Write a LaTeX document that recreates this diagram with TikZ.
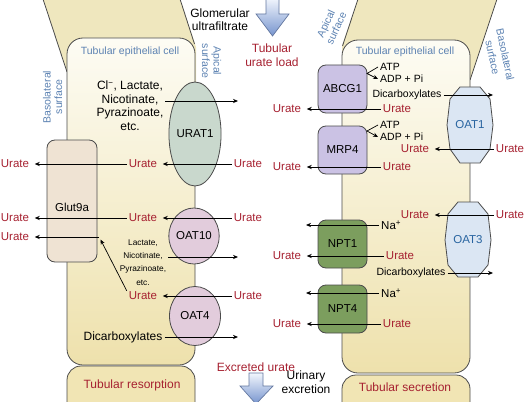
\documentclass[tikz,border=0pt]{standalone}
\usepackage{fontspec}
\setmainfont{Liberation Sans}
\usetikzlibrary{shapes.geometric,arrows.meta}
\definecolor{ured}{RGB}{166,32,48}
\definecolor{lblue}{RGB}{92,130,178}
\definecolor{oblue}{RGB}{40,100,160}
\definecolor{trapfill}{RGB}{239,231,190}
\definecolor{celltop}{RGB}{253,252,244}
\definecolor{cellbot}{RGB}{238,225,172}
\definecolor{capfill}{RGB}{241,229,180}
\definecolor{edgec}{RGB}{75,75,75}
\definecolor{uratc}{RGB}{201,216,205}
\definecolor{oatc}{RGB}{226,204,220}
\definecolor{glutc}{RGB}{239,227,211}
\definecolor{abcc}{RGB}{203,194,228}
\definecolor{nptc}{RGB}{124,158,94}
\definecolor{oatbc}{RGB}{219,230,243}
\definecolor{bigtop}{RGB}{242,246,253}
\definecolor{bigbot}{RGB}{118,148,206}
\definecolor{bigedge}{RGB}{100,120,160}
\tikzset{
  edgeline/.style={draw=edgec, line width=0.8pt},
  cellstyle/.style={edgeline, rounded corners=16pt, top color=celltop, bottom color=cellbot},
  capstyle/.style={edgeline, rounded corners=14pt, fill=capfill},
  tbox/.style={edgeline, rectangle, rounded corners=8pt, inner sep=0pt, font=\fontsize{11.5}{13}\selectfont},
  tell/.style={edgeline, ellipse, inner sep=0pt, font=\fontsize{11.5}{13}\selectfont},
  lab/.style={inner xsep=2pt, inner ysep=1pt, font=\fontsize{11.5}{13}\selectfont},
  biglab/.style={inner xsep=2pt, inner ysep=1pt, font=\fontsize{12}{13.5}\selectfont},
  smlab/.style={inner xsep=2pt, inner ysep=1pt, font=\fontsize{10.5}{12}\selectfont},
  tinylab/.style={inner xsep=2pt, inner ysep=1pt, font=\fontsize{8.3}{13.2}\selectfont},
  ur/.style={lab, text=ured},
  blab/.style={inner sep=1pt, text=lblue, font=\fontsize{10.5}{11.5}\selectfont, align=center},
  arr/.style={-{Stealth[length=5pt,width=4.2pt]}, line width=0.7pt, black},
  arrL/.style={arr, shorten >=3.5pt},
  bigarrow/.style={draw=bigedge, line width=0.7pt, top color=bigtop, bottom color=bigbot}
}
\begin{document}
\begin{tikzpicture}[x=1pt,y=-1pt]
\useasboundingbox (0,0) rectangle (526,401);
\clip (0,0) rectangle (526,401);

% ---- funnels above the cells
\fill[trapfill] (43,-1) -- (180,-1) -- (196,47) -- (196,120) -- (67,120) -- (67,72) -- cycle;
\draw[edgeline] (43,-1) -- (67,72);
\draw[edgeline] (180,-1) -- (194.5,44);
\fill[trapfill] (358,-1) -- (497,-1) -- (470,80) -- (470,120) -- (342,120) -- (342,46) -- cycle;
\draw[edgeline] (358,-1) -- (342.5,46);
\draw[edgeline] (497,-1) -- (470,80);

% ---- cells
\draw[cellstyle] (67,38) rectangle (195,365);
\draw[cellstyle] (342,40) rectangle (470,373);
\draw[capstyle] (67,415) -- (67,366) -- (195,366) -- (195,415);
\draw[capstyle] (342,415) -- (342,375) -- (470,375) -- (470,415);

% ---- big arrows
\path[bigarrow] (266,-2) -- (279,-2) -- (279,14) -- (289,14) -- (272.5,36) -- (256,14) -- (266,14) -- cycle;
\path[bigarrow] (249,373) -- (263,373) -- (263,386) -- (273,386) -- (256,404) -- (240,386) -- (249,386) -- cycle;

% ---- left cell transporters
\node[tbox, fill=glutc, minimum width=50pt, minimum height=122pt] (glut) at (72,201) {};
\node[lab] (glutl) at (72,207) {Glut9a};
\node[tell, fill=uratc, minimum width=50pt, minimum height=104pt] (urat1) at (195,134) {URAT1};
\node[tell, fill=oatc, minimum width=50pt, minimum height=56pt] (oat10) at (194,236) {OAT10};
\node[tell, fill=oatc, minimum width=51pt, minimum height=59pt] (oat4) at (195,316) {OAT4};

% ---- right cell transporters
\node[tbox, fill=abcc, minimum width=49pt, minimum height=48pt] (abcg1) at (342.5,89) {ABCG1};
\node[tbox, fill=abcc, minimum width=49pt, minimum height=48pt] (mrp4) at (342.5,150) {MRP4};
\node[tbox, fill=nptc, minimum width=49pt, minimum height=48pt] (npt1) at (342.5,244) {NPT1};
\node[tbox, fill=nptc, minimum width=49pt, minimum height=48pt] (npt4) at (342.5,309) {NPT4};
\draw[edgeline, fill=oatbc] (460,87) -- (480,87) -- (490,99) -- (493,125) -- (490,149) -- (480,163) -- (460,163) -- (450,149) -- (447,125) -- (450,99) -- cycle;
\node[lab, text=oblue] (oat1) at (470,125) {OAT1};
\draw[edgeline, fill=oatbc] (458,202) -- (478,202) -- (488,214) -- (491,240) -- (488,265) -- (478,277) -- (458,277) -- (448,265) -- (445,240) -- (448,214) -- cycle;
\node[lab, text=oblue] (oat3) at (468,240) {OAT3};

% ---- blue labels
\node[blab] (tecL) at (130,52) {Tubular epithelial cell};
\node[blab] (tecR) at (405,52) {Tubular epithelial cell};
\node[blab, rotate=90] (basoL) at (52.5,97) {Basolateral\\surface};
\node[blab, rotate=-90] (apL) at (211.5,61) {Apical\\surface};
\node[blab, rotate=65] (apR) at (331,26) {Apical\\surface};
\node[blab, rotate=-78, font=\fontsize{10.5}{13}\selectfont] (basoR) at (499,56) {Basolateral\\surface};

% ---- central labels
\node[biglab, align=center] (glom) at (220,19.5) {Glomerular\\ultrafiltrate};
\node[biglab, align=center, text=ured] (load) at (272,55) {Tubular\\urate load};
\node[biglab, text=ured] (excr) at (256,367) {Excreted urate};
\node[biglab, align=center] (urin) at (306,382) {Urinary\\excretion};
\node[biglab, text=ured] (resorp) at (132,385) {Tubular resorption};
\node[biglab, text=ured] (secr) at (405,387) {Tubular secretion};

% ---- left cell: URAT1
\node[biglab, align=center] (cl) at (130,105.5) {Cl\textsuperscript{\char"2212}, Lactate,\\Nicotinate,\\Pyrazinoate,\\etc.};
\coordinate (c1s) at (165,101);
\coordinate (c1e) at (238,101);
\draw[arr] (c1s) -- (c1e);
\node[ur] (uL1) at (15,164) {Urate};
\node[ur] (uM1) at (143,164) {Urate};
\node[ur] (uR1) at (248,164) {Urate};
\draw[arrL] (uR1.west) -- (uM1.east);
\draw[arrL] (uM1.west) -- (uL1.east);

% ---- left cell: OAT10
\node[ur] (uL2) at (15,218) {Urate};
\node[ur] (uM2) at (143,218) {Urate};
\node[ur] (uR2) at (248,218) {Urate};
\draw[arrL] (uR2.west) -- (uM2.east);
\draw[arrL] (uM2.west) -- (uL2.east);
\node[ur] (uL3) at (15,237) {Urate};
\node[tinylab, align=center] (lac) at (143,262.5) {Lactate,\\Nicotinate,\\Pyrazinoate,\\etc.};
\coordinate (c2s) at (168,257);
\coordinate (c2e) at (238,257);
\draw[arr] (c2s) -- (c2e);

% ---- left cell: OAT4
\node[ur] (uM4) at (143,296) {Urate};
\node[ur] (uR4) at (248,296) {Urate};
\draw[arrL] (uR4.west) -- (uM4.east);
\coordinate (jt) at (100.5,239.5);
\coordinate (jn) at (99,237);
\draw[arr] (uM4.north west) -- (jt);
\draw[arrL] (jn) -- (uL3.east);
\node[biglab] (dL) at (123,337) {Dicarboxylates};
\coordinate (dLe) at (238,337);
\draw[arr] (dL.east) -- (dLe);

% ---- right cell: ABCG1
\node[smlab, anchor=west] (atp1) at (378,67) {ATP};
\node[smlab, anchor=west] (adp1) at (378,79) {ADP + Pi};
\coordinate (b1) at (367,73.5);
\draw[arr] (atp1.west) -- (b1) -- (adp1.west);
\node[smlab] (dR1) at (407,95) {Dicarboxylates};
\coordinate (dR1e) at (493,95);
\draw[arr] (dR1.east) -- (dR1e);
\node[ur] (uA) at (397,109) {Urate};
\node[ur] (uAL) at (287,109) {Urate};
\draw[arrL] (uA.west) -- (uAL.east);

% ---- right cell: MRP4
\node[smlab, anchor=west] (atp2) at (378,125) {ATP};
\node[smlab, anchor=west] (adp2) at (378,137) {ADP + Pi};
\coordinate (b2) at (367,131);
\draw[arr] (atp2.west) -- (b2) -- (adp2.west);
\node[ur] (uB) at (397,167) {Urate};
\node[ur] (uBL) at (287,167) {Urate};
\draw[arrL] (uB.west) -- (uBL.east);

% ---- right cell: OAT1, OAT3
\node[ur] (uO1) at (415,149) {Urate};
\node[ur] (uO1R) at (510,149) {Urate};
\draw[arrL] (uO1R.west) -- (uO1.east);
\node[ur] (uO3) at (415,215) {Urate};
\node[ur] (uO3R) at (510,215) {Urate};
\draw[arrL] (uO3R.west) -- (uO3.east);
\node[smlab] (dR2) at (411,273) {Dicarboxylates};
\coordinate (dR2e) at (493,273);
\draw[arr] (dR2.east) -- (dR2e);

% ---- right cell: NPT1, NPT4
\node[lab, anchor=west] (na1) at (379,225) {Na\textsuperscript{+}};
\coordinate (na1e) at (306,225);
\draw[arr] (na1.west) -- (na1e);
\node[ur] (uN1) at (400,256) {Urate};
\node[ur] (uN1L) at (287,256) {Urate};
\draw[arrL] (uN1.west) -- (uN1L.east);
\node[lab, anchor=west] (na2) at (379,293) {Na\textsuperscript{+}};
\coordinate (na2e) at (306,293);
\draw[arr] (na2.west) -- (na2e);
\node[ur] (uN2) at (397,324) {Urate};
\node[ur] (uN2L) at (287,324) {Urate};
\draw[arrL] (uN2.west) -- (uN2L.east);
\end{tikzpicture}
\end{document}
